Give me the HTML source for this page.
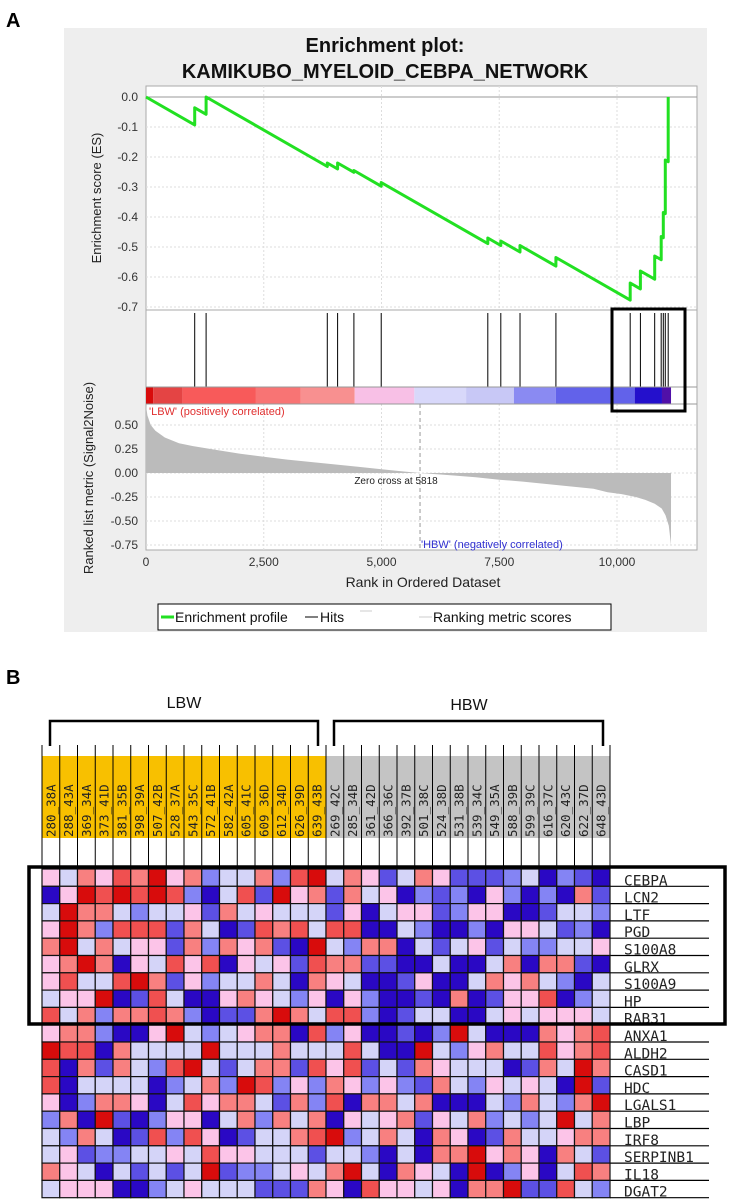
<!DOCTYPE html>
<html><head><meta charset="utf-8"><style>
body{margin:0;background:#fff;width:730px;height:1200px;overflow:hidden}
svg{display:block}
text{font-family:"Liberation Sans",sans-serif}
.mono{font-family:"DejaVu Sans Mono","Liberation Mono",monospace}
</style></head><body>
<svg id="fig" width="730" height="1200" xmlns="http://www.w3.org/2000/svg">
<text x="6" y="27" font-size="20" font-weight="bold">A</text>
<rect x="64" y="28" width="643" height="604" fill="#eeeeee"/>
<text x="385" y="52" font-size="20" font-weight="bold" text-anchor="middle" fill="#111">Enrichment plot:</text>
<text x="385" y="78" font-size="20" font-weight="bold" text-anchor="middle" fill="#111">KAMIKUBO_MYELOID_CEBPA_NETWORK</text>
<g id="gA"></g>
<text x="6" y="684" font-size="20" font-weight="bold">B</text>
<g id="gB"></g>
</svg>
<script>
// ---------- Panel A data ----------
const hitRanks = [1034,1276,3849,4068,4414,4994,7257,7533,7941,8703,10280,10497,10800,10938,10983,11025,11087];
const esAfter = [-0.036,0.0,-0.22,-0.22,-0.245,-0.285,-0.47,-0.48,-0.495,-0.535,-0.62,-0.58,-0.53,-0.465,-0.385,-0.21,0.0];
const esSlope = 0.0000900;
const totalRanks = 11147;
const esTicks = [0.0,-0.1,-0.2,-0.3,-0.4,-0.5,-0.6,-0.7];
const xTicks = [0,2500,5000,7500,10000];
const xTickLabels = ['0','2,500','5,000','7,500','10,000'];
const metricTicks = [0.5,0.25,0,-0.25,-0.5,-0.75];
const metricTickLabels = ['0.50','0.25','0.00','-0.25','-0.50','-0.75'];
const metricRanks = [0,30,100,200,400,700,1000,1500,2000,2500,3000,3500,4000,4500,5000,5500,5818,6500,7000,7500,8000,8500,9000,9500,9800,10100,10400,10600,10800,10950,11030,11100,11147];
const metricVals = [0.7,0.6,0.5,0.44,0.37,0.31,0.28,0.24,0.2,0.17,0.14,0.115,0.09,0.065,0.04,0.015,0,-0.025,-0.045,-0.07,-0.09,-0.115,-0.14,-0.165,-0.2,-0.22,-0.25,-0.28,-0.32,-0.37,-0.44,-0.55,-0.75];
const barRanks = [0,151,773,2334,3287,4431,5697,6796,7811,8703,10376,10955,11147];
const barColors = ['#d80c0c','#e44444','#f85a5a','#f87474','#f89090','#f8c0e6','#d8d8fa','#c8c8f6','#8a8af2','#6262ea','#2410cc','#5010a8'];
const zeroCross = 5818;

const NS='http://www.w3.org/2000/svg';
function mk(tag,attrs,parent){const e=document.createElementNS(NS,tag);for(const k in attrs)e.setAttribute(k,attrs[k]);parent.appendChild(e);return e;}
const gA=document.getElementById('gA');
const L=146,R=697;
const xScale=r=>L+r*(617-L)/10000;
const esY=v=>97+(-v)*(307-97)/0.7;
const mY=v=>473-v*(473-425)/0.5;

let e;
e=mk('rect',{x:L,y:86,width:R-L,height:224,fill:'#fff',stroke:'#aaa'},gA);


e=mk('rect',{x:L,y:310,width:R-L,height:240,fill:'#fff',stroke:'#aaa'},gA);


xTicks.forEach((t,i)=>{
 if(i===0)return;
 e=mk('line',{x1:xScale(t),x2:xScale(t),y1:86,y2:310,stroke:'#ddd','stroke-dasharray':'2,2'},gA);
 
 
 e=mk('line',{x1:xScale(t),x2:xScale(t),y1:404,y2:550,stroke:'#ddd','stroke-dasharray':'2,2'},gA);
 
 
});
esTicks.forEach(t=>{
 e=mk('line',{x1:L,x2:R,y1:esY(t),y2:esY(t),stroke:t===0?'#999':'#ddd','stroke-dasharray':t===0?'':'2,2'},gA);
 
 
 e=mk('text',{x:L-8,y:esY(t)+4,'font-size':12,'text-anchor':'end',fill:'#333'},gA);
 e.textContent=t.toFixed(1);
 
 
});
metricTicks.forEach((t,i)=>{
 e=mk('line',{x1:L,x2:R,y1:mY(t),y2:mY(t),stroke:'#ddd','stroke-dasharray':'2,2'},gA);
 
 
 e=mk('text',{x:L-8,y:mY(t)+4,'font-size':12,'text-anchor':'end',fill:'#333'},gA);
 e.textContent=metricTickLabels[i];
 
 
});
let pts=[[0,0]],prevR=0,prevV=0;
hitRanks.forEach((r,i)=>{const before=prevV-esSlope*(r-prevR);pts.push([r,before]);pts.push([r,esAfter[i]]);prevR=r;prevV=esAfter[i];});
e=mk('polyline',{points:pts.map(p=>xScale(p[0]).toFixed(1)+','+esY(p[1]).toFixed(1)).join(' '),fill:'none',stroke:'#22e022','stroke-width':3,'stroke-linejoin':'round'},gA);


hitRanks.forEach(r=>{
 e=mk('line',{x1:xScale(r),x2:xScale(r),y1:313,y2:387,stroke:'#000','stroke-width':1},gA);
 
 
});
barColors.forEach((c,i)=>{
 e=mk('rect',{x:xScale(barRanks[i]),y:387,width:xScale(barRanks[i+1])-xScale(barRanks[i]),height:17,fill:c},gA);
 
 
});
mk('line',{x1:L,x2:R,y1:387,y2:387,stroke:'#999'},gA);
mk('line',{x1:L,x2:R,y1:404,y2:404,stroke:'#999'},gA);
let ap='M'+xScale(0)+','+mY(0);
metricRanks.forEach((r,i)=>{ap+=' L'+xScale(r).toFixed(1)+','+mY(metricVals[i]).toFixed(1);});
ap+=' L'+xScale(totalRanks)+','+mY(0)+' Z';
e=mk('path',{d:ap,fill:'#bbbbbb'},gA);


e=mk('line',{x1:xScale(zeroCross),x2:xScale(zeroCross),y1:404,y2:550,stroke:'#999','stroke-dasharray':'4,3'},gA);


e=mk('text',{x:xScale(zeroCross)-24,y:484,'font-size':10,'text-anchor':'middle',fill:'#222'},gA);
e.textContent='Zero cross at '+zeroCross;


e=mk('text',{x:149,y:415,'font-size':11,fill:'#e03030'},gA);
e.textContent="'LBW' (positively correlated)";


e=mk('text',{x:421,y:548,'font-size':11,fill:'#3030d0'},gA);
e.textContent="'HBW' (negatively correlated)";


xTicks.forEach((t,i)=>{
 e=mk('text',{x:xScale(t),y:566,'font-size':12,'text-anchor':'middle',fill:'#333'},gA);
 e.textContent=xTickLabels[i];
 
 
});
e=mk('text',{x:423,y:587,'font-size':14,'text-anchor':'middle',fill:'#222'},gA);
e.textContent='Rank in Ordered Dataset';


e=mk('text',{x:0,y:0,'font-size':13,'text-anchor':'middle',fill:'#222',transform:'translate(101,198) rotate(-90)'},gA);
e.textContent='Enrichment score (ES)';


e=mk('text',{x:0,y:0,'font-size':13,'text-anchor':'middle',fill:'#222',transform:'translate(93,478) rotate(-90)'},gA);
e.textContent='Ranked list metric (Signal2Noise)';


e=mk('rect',{x:612,y:309,width:73,height:102,fill:'none',stroke:'#000','stroke-width':3},gA);


e=mk('rect',{x:158,y:604,width:453,height:26,fill:'#fff',stroke:'#000'},gA);


mk('line',{x1:161,x2:174,y1:617,y2:617,stroke:'#22e022','stroke-width':3},gA);
e=mk('text',{x:175,y:622,'font-size':14,fill:'#111'},gA);e.textContent='Enrichment profile';


mk('line',{x1:305,x2:318,y1:617,y2:617,stroke:'#000','stroke-width':1},gA);
e=mk('text',{x:320,y:622,'font-size':14,fill:'#111'},gA);e.textContent='Hits';


mk('line',{x1:360,x2:372,y1:611,y2:611,stroke:'#ccc','stroke-width':1},gA);
mk('line',{x1:419,x2:432,y1:617,y2:617,stroke:'#ccc','stroke-width':1},gA);
e=mk('text',{x:433,y:622,'font-size':14,fill:'#111'},gA);e.textContent='Ranking metric scores';



// ---------- Panel B data ----------
const lbwSamples=['280_38A','288_43A','369_34A','373_41D','381_35B','398_39A','507_42B','528_37A','543_35C','572_41B','582_42A','605_41C','609_36D','612_34D','626_39D','639_43B'];
const hbwSamples=['269_42C','285_34B','361_42D','366_36C','392_37B','501_38C','524_38D','531_38B','539_34C','549_35A','588_39B','599_39C','616_37C','620_43C','622_37D','648_43D'];
const genes=['CEBPA','LCN2','LTF','PGD','S100A8','GLRX','S100A9','HP','RAB31','ANXA1','ALDH2','CASD1','HDC','LGALS1','LBP','IRF8','SERPINB1','IL18','DGAT2'];
const expr=[
'45342314365536215347534777658678',
'84121212685271437354867684686837',
'51335655473545557485447644887556',
'41362227358723252288568868445768',
'31535447363437815633857547566554',
'43138452428454723377885885383378',
'42552137465535834588748853435685',
'54418725884345648468878387442865',
'25363323687731352268755885454445',
'43368841565433826488786158883432',
'12283555515553555258815643552432',
'28373562157533724275734555873513',
'28555586536126463464673564545817',
'48633485243357362833538885635631',
'63817864485363538454374536565153',
'56358726248755321653583487355433',
'54766554524455575568583314348357',
'34585757517665453158345818648523',
'54448865455577734824454833177256'];
const colorMap={1:'#d80c0c',2:'#f05050',3:'#f88080',4:'#fcc4e8',5:'#d4d4f8',6:'#8484f4',7:'#5c50e4',8:'#2a08c4'};
const gB=document.getElementById('gB');
const samples=lbwSamples.concat(hbwSamples);
const cx0=42,cw=17.75,cy0=869,ch=17.3;
const colX=i=>cx0+i*cw;
const rowY=j=>cy0+j*ch;
e=mk('text',{x:184,y:708,'font-size':16,'text-anchor':'middle',fill:'#111'},gB);e.textContent='LBW';


e=mk('text',{x:469,y:710,'font-size':16,'text-anchor':'middle',fill:'#111'},gB);e.textContent='HBW';


e=mk('path',{d:'M50,746 V721 H318 V746',fill:'none',stroke:'#000','stroke-width':2.5},gB);


e=mk('path',{d:'M334,746 V721 H603 V746',fill:'none',stroke:'#000','stroke-width':2.5},gB);


e=mk('rect',{x:colX(0),y:756,width:cw*16,height:82,fill:'#f8c000'},gB);


e=mk('rect',{x:colX(16),y:756,width:cw*16,height:82,fill:'#c4c4c4'},gB);


samples.forEach((s,i)=>{
 const tx=colX(i)+cw/2+4.5;
 e=mk('text',{x:0,y:0,'font-size':12.5,fill:'#222',class:'mono',transform:`translate(${tx},837) rotate(-90)`},gB);
 e.textContent=s;
 
 
});
for(let i=0;i<=32;i++){
 e=mk('line',{x1:colX(i),x2:colX(i),y1:745,y2:cy0,stroke:'#000','stroke-width':1},gB);
 
 
}
genes.forEach((g,j)=>{
 for(let i=0;i<32;i++){
  const v=+expr[j][i];
  e=mk('rect',{x:colX(i),y:rowY(j),width:cw,height:ch,fill:colorMap[v],stroke:'#111','stroke-width':1.2},gB);
  
  
 }
 e=mk('line',{x1:colX(32),x2:709,y1:rowY(j+1),y2:rowY(j+1),stroke:'#000','stroke-width':1.2},gB);
 
 
 e=mk('text',{x:624,y:rowY(j+1)-1,'font-size':14.5,fill:'#222',class:'mono'},gB);
 e.textContent=g;
 
 
});
e=mk('rect',{x:29,y:867,width:696,height:157,fill:'none',stroke:'#000','stroke-width':3.5},gB);


</script>
</body></html>
